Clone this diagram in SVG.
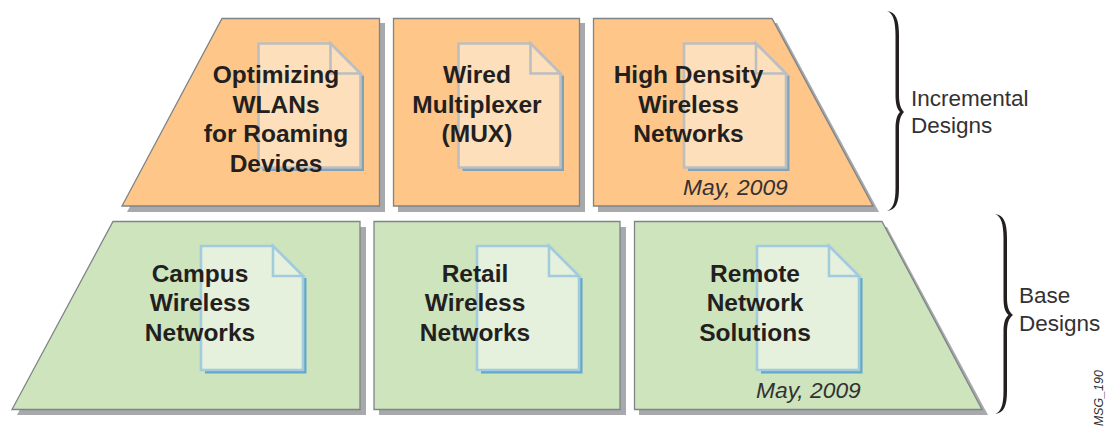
<svg xmlns="http://www.w3.org/2000/svg" width="1113" height="427" viewBox="0 0 1113 427">
<style>
text{font-family:"Liberation Sans",Arial,sans-serif;fill:#231f20}
.t{font-size:24.500px;font-weight:700;text-anchor:middle}
.l{font-size:22.500px;fill:#333132}
.d{font-size:22.800px;font-style:italic;fill:#333132}
.sh{fill:#a7a9ac;stroke:none}
.o{fill:#fec688;stroke:#7f8488;stroke-width:1.3}
.g{fill:#cde4bc;stroke:#7f8488;stroke-width:1.3}
.ds{fill:none;stroke:#7fa3bb;stroke-width:3}
.dsg{fill:none;stroke:#62a8cb;stroke-width:3}
.po{fill:#fde0bb;stroke:#bcbec0;stroke-width:2.6}
.pg{fill:#e5f1dc;stroke:#a3cbde;stroke-width:2.6}
.b{fill:#231f20;stroke:none}
</style>
<defs>
<g id="doco"><path class="ds" d="M104 32V126H4"/><path class="po" d="M0 0H72L102 30V124H0Z"/><path class="po" d="M72 0V30H102Z"/></g>
<g id="docg"><path class="dsg" d="M104 32V126H4"/><path class="pg" d="M0 0H72L102 30V124H0Z"/><path class="pg" d="M72 0V30H102Z"/></g>
</defs>
<g id="connectors">
<path class="b" d="M887 11C896 12 899 20 899 35V95C899 104 901 109 904 112C901 115 899 120 899 129V188C899 203 896 210 887 211C893 209 895.500 202 895.500 188V129C895.500 120 897 115 900 112C897 109 895.500 104 895.500 95V35C895.500 21 893 13 887 11Z"/>
<path class="b" d="M995 214C1004 215 1007 223 1007 238V298C1007 307 1009 312 1013 315C1009 318 1007 323 1007 332V391C1007 406 1004 413 995 414C1001 412 1003.500 405 1003.500 391V332C1003.500 323 1005 318 1008.500 315C1005 312 1003.500 307 1003.500 298V238C1003.500 224 1001 216 995 214Z"/>
</g>
<g id="node-optimizing">
<path class="sh" d="M227 23H385V212H127Z"/><path class="o" d="M222 18.500H379.500V206H122Z"/>
<use href="#doco" x="258.500" y="43.500"/>
<text class="t" x="276" y="83">Optimizing</text><text class="t" x="276" y="113">WLANs</text><text class="t" x="276" y="142">for Roaming</text><text class="t" x="276" y="172">Devices</text>
</g>
<g id="node-mux">
<path class="sh" d="M398 23H585V212H398Z"/><path class="o" d="M393.500 18.500H579.500V206H393.500Z"/>
<use href="#doco" x="458.500" y="43.500"/>
<text class="t" x="477" y="83">Wired</text><text class="t" x="477" y="113">Multiplexer</text><text class="t" x="477" y="142">(MUX)</text>
</g>
<g id="node-highdensity">
<path class="sh" d="M598 23H777L879 212H598Z"/><path class="o" d="M593.500 18.500H772L873 206H593.500Z"/>
<use href="#doco" x="684" y="43.500"/>
<text class="t" x="688.500" y="83">High Density</text><text class="t" x="688.500" y="113">Wireless</text><text class="t" x="688.500" y="142">Networks</text>
<text class="d" x="683" y="195">May, 2009</text>
</g>
<g id="node-campus">
<path class="sh" d="M118 227H366V415H17Z"/><path class="g" d="M113 221.500H360V409.500H12Z"/>
<use href="#docg" x="201" y="246"/>
<text class="t" x="200" y="282">Campus</text><text class="t" x="200" y="311">Wireless</text><text class="t" x="200" y="341">Networks</text>
</g>
<g id="node-retail">
<path class="sh" d="M379 227H626V415H379Z"/><path class="g" d="M374 221.500H620V409.500H374Z"/>
<use href="#docg" x="477" y="246"/>
<text class="t" x="475" y="282">Retail</text><text class="t" x="475" y="311">Wireless</text><text class="t" x="475" y="341">Networks</text>
</g>
<g id="node-remote">
<path class="sh" d="M639 227H887L988 415H639Z"/><path class="g" d="M634.500 221.500H882L982 409.500H634.500Z"/>
<use href="#docg" x="757" y="246"/>
<text class="t" x="755" y="282">Remote</text><text class="t" x="755" y="311">Network</text><text class="t" x="755" y="341">Solutions</text>
<text class="d" x="756" y="398">May, 2009</text>
</g>
<g id="label-incremental"><text class="l" x="911" y="106">Incremental</text><text class="l" x="911" y="133">Designs</text></g>
<g id="label-base"><text class="l" x="1019" y="303">Base</text><text class="l" x="1019" y="331">Designs</text></g>
<text x="1103" y="426" transform="rotate(-90 1103 426)" font-size="12.400" font-style="italic" style="fill:#333132">MSG_190</text>
</svg>
